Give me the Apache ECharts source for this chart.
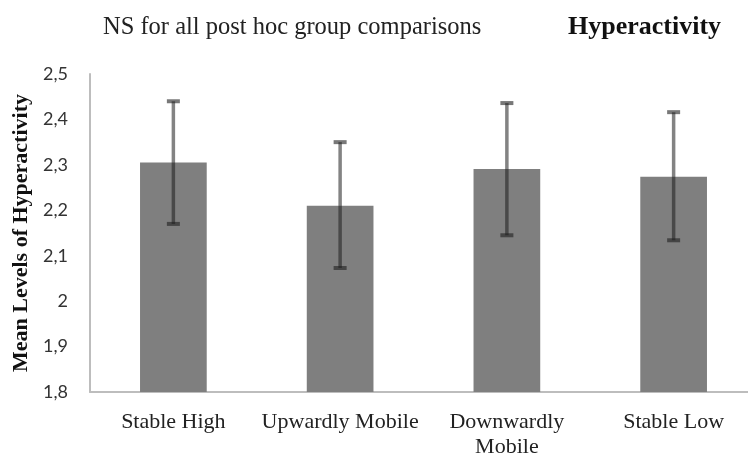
<!DOCTYPE html>
<html>
<head>
<meta charset="utf-8">
<script src="https://cdn.jsdelivr.net/npm/echarts@6/dist/echarts.min.js"></script>
<style>html,body{margin:0;padding:0;background:#fff;overflow:hidden;}#c{width:760px;height:461px;}</style>
</head>
<body>
<div id="c"></div>
<script>
const categories = ['Stable High', 'Upwardly Mobile', 'Downwardly\nMobile', 'Stable Low'];
const means = [2.305, 2.210, 2.291, 2.274];
const errLow = [2.170, 2.073, 2.145, 2.134];
const errHigh = [2.440, 2.350, 2.436, 2.416];
const yTicks = { min: 1.8, max: 2.5, interval: 0.1 };

const chart = echarts.init(document.getElementById('c'), null, { renderer: 'canvas' });
const errData = categories.map((c, i) => [i, errLow[i], errHigh[i]]);

chart.setOption({
  animation: false,
  backgroundColor: '#fff',
  title: [
    { text: 'NS for all post hoc group comparisons', left: 98, top: 10,
      textStyle: { fontFamily: 'Liberation Serif', fontSize: 24.5, fontWeight: 'normal', color: '#222' } },
    { text: 'Hyperactivity', left: 563, top: 9,
      textStyle: { fontFamily: 'Liberation Serif', fontSize: 26, fontWeight: 'bold', color: '#111' } }
  ],
  grid: { left: 90, top: 74, width: 667, bottom: 69, containLabel: false },
  xAxis: {
    type: 'category',
    data: categories,
    axisLine: { show: true, lineStyle: { color: '#bdbdbd', width: 2 } },
    axisTick: { show: false },
    axisLabel: { margin: 18, fontFamily: 'Liberation Serif', fontSize: 22, color: '#222', lineHeight: 25, interval: 0 }
  },
  yAxis: {
    type: 'value',
    min: yTicks.min, max: yTicks.max, interval: yTicks.interval,
    name: 'Mean Levels of Hyperactivity',
    nameLocation: 'middle',
    nameGap: 55,
    nameTextStyle: { fontFamily: 'Liberation Serif', fontSize: 22, fontWeight: 'bold', color: '#111' },
    axisLine: { show: true, lineStyle: { color: '#bdbdbd', width: 2 } },
    axisTick: { show: false },
    splitLine: { show: false },
    axisLabel: {
      margin: 22, fontFamily: 'Lato', fontSize: 18, color: '#333',
      formatter: v => (Math.round(v * 10) / 10).toString().replace('.', ',')
    }
  },
  series: [
    {
      type: 'bar',
      data: means,
      barWidth: '40%',
      itemStyle: { color: '#7f7f7f' }
    },
    {
      type: 'custom',
      data: errData,
      z: 10,
      renderItem: function (params, api) {
        const x = api.value(0);
        const lo = api.coord([x, api.value(1)]);
        const hi = api.coord([x, api.value(2)]);
        const half = 6.5;
        const style = { stroke: 'rgba(30,30,30,0.55)', lineWidth: 3.5 };
        const capStyle = { stroke: 'rgba(30,30,30,0.6)', lineWidth: 4 };
        return {
          type: 'group',
          children: [
            { type: 'line', shape: { x1: hi[0], y1: hi[1], x2: lo[0], y2: lo[1] }, style: style },
            { type: 'line', shape: { x1: hi[0] - half, y1: hi[1], x2: hi[0] + half, y2: hi[1] }, style: capStyle },
            { type: 'line', shape: { x1: lo[0] - half, y1: lo[1], x2: lo[0] + half, y2: lo[1] }, style: capStyle }
          ]
        };
      }
    }
  ]
});
</script>
</body>
</html>
